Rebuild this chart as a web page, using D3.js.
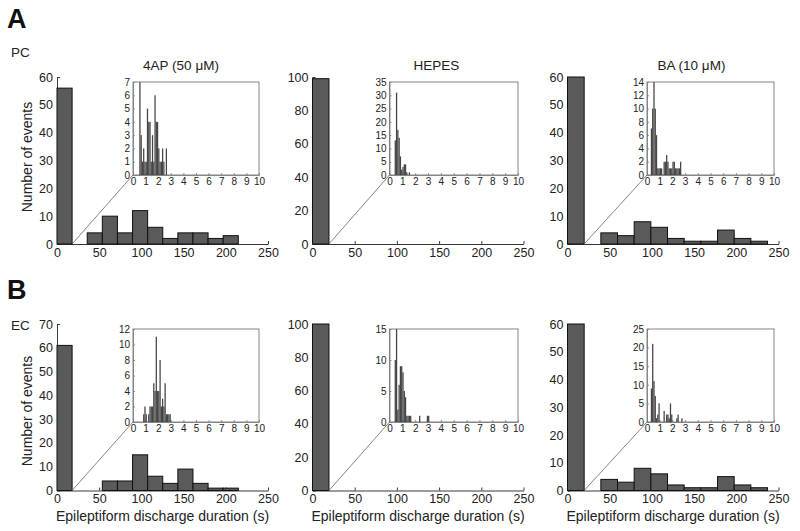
<!DOCTYPE html>
<html><head><meta charset="utf-8">
<script src="https://cdn.jsdelivr.net/npm/d3@7"></script>
<style>body{margin:0;background:#fff} svg{display:block;font-family:"Liberation Sans",Arial,Helvetica,sans-serif}</style>
</head><body><svg id="c" width="800" height="531"></svg>
<script>
// ---------- data ----------
const conditions = ["4AP (50 μM)", "HEPES", "BA (10 μM)"];
const regions = ["PC", "EC"];
const panelLetters = ["A", "B"];
const yAxisTitle = "Number of events";
const xAxisTitle = "Epileptiform discharge duration (s)";
const mainXTicks = [0, 50, 100, 150, 200, 250];
const insetXTicks = [0, 1, 2, 3, 4, 5, 6, 7, 8, 9, 10];

// main histograms: counts per bin, starting at 0 s
const mainBinWidth = [17.9, 19.5, 19.75];
const pc4apMain  = [56, 0, 4, 10, 4, 12, 6, 2, 4, 4, 2, 3];
const pcHepesMain = [99];
const pcBaMain   = [60, 0, 4, 3, 8, 6, 2, 1, 1, 5, 2, 1];
const ec4apMain  = [61, 0, 0, 4, 4, 15, 6, 3, 9, 3, 1, 1];
const ecHepesMain = [100];
const ecBaMain   = [60, 0, 4, 3, 8, 6, 2, 1, 1, 5, 2, 1];
const mainYMax  = [[60, 100, 60], [70, 100, 60]];
const mainYStep = [[10, 20, 10], [10, 20, 10]];

// inset histograms (0.1 s bins), first bin start per panel
const insetBinWidth = 0.1;
const insetStart = [[0.5, 0.4, 0.3], [0.8, 0.4, 0.3]];
const pc4apInset  = [7,3,1,2,1,1,5,4,4,1,3,1,6,4,4,2,1,1,2,1,0,2];
const pcHepesInset = [13,31,17,14,7,2,3,4,4,1,0,1];
const pcBaInset   = [7,10,14,10,6,1,1,1,1,0,2,2,3,2,1,1,1,2,2,1,1,1,1,2];
const ec4apInset  = [1,2,1,0,1,2,2,2,5,4,11,4,4,8,2,3,2,5,1,1,1,1];
const ecHepesInset = [10,15,2,6,9,9,8,5,4,1,1,1,1,0,0,0,0,0,0,1,0,0,0,0,0,1,1];
const ecBaInset   = [9,21,11,7,1,2,5,0,0,0,3,0,2,2,1,5,2,0,0,0,1,2,0,0,1];
const insetYMax  = [[7, 35, 14], [12, 15, 25]];
const insetYStep = [[1, 5, 2], [2, 5, 5]];

const mainData  = [[pc4apMain, pcHepesMain, pcBaMain], [ec4apMain, ecHepesMain, ecBaMain]];
const insetData = [[pc4apInset, pcHepesInset, pcBaInset], [ec4apInset, ecHepesInset, ecBaInset]];

// ---------- layout ----------
const colX = [57, 312.5, 567.5];
const mainW = 211;
const rowTop = [77, 324];
const rowBase = [244, 490.5];
const insetL = [76, 77, 79.5];
const insetR = [202, 205.5, 206.5];
const insetTop = [82, 329];
const insetBot = [175, 422];

const svg = d3.select("#c");
const barFill = "#5a5a5a";
const fmt = d3.format("d");

function ticksFor(max, step) { return d3.range(0, max + step / 2, step); }

for (let r = 0; r < 2; r++) {
  for (let c = 0; c < 3; c++) {
    const g = svg.append("g");
    const x = d3.scaleLinear().domain([0, 250]).range([colX[c], colX[c] + mainW]);
    const y = d3.scaleLinear().domain([0, mainYMax[r][c]]).range([rowBase[r], rowTop[r]]);

    // axes
    const xa = g.append("g").attr("transform", `translate(0,${rowBase[r]})`)
      .call(d3.axisBottom(x).tickValues(mainXTicks).tickFormat(fmt).tickSizeInner(-3).tickSizeOuter(0).tickPadding(4));
    const ya = g.append("g").attr("transform", `translate(${colX[c]},0)`)
      .call(d3.axisLeft(y).tickValues(ticksFor(mainYMax[r][c], mainYStep[r][c])).tickFormat(fmt).tickSizeInner(-3).tickSizeOuter(0).tickPadding(4));
    [xa, ya].forEach(a => {
      a.selectAll("path,line").attr("stroke", "#222").attr("stroke-width", 0.9);
      a.selectAll("text").attr("font-size", 12.5).attr("fill", "#222");
    });

    // main bars
    const bw = mainBinWidth[c];
    const bins = mainData[r][c].map((v, i) => ({ x0: i * bw, x1: (i + 1) * bw, v })).filter(d => d.v > 0);
    g.selectAll("rect.m").data(bins).enter().append("rect")
      .attr("x", d => x(d.x0)).attr("width", d => x(d.x1) - x(d.x0))
      .attr("y", d => y(d.v)).attr("height", d => y(0) - y(d.v))
      .attr("fill", barFill).attr("stroke", "#111").attr("stroke-width", 1);

    // inset
    const ix = d3.scaleLinear().domain([0, 10]).range([colX[c] + insetL[c], colX[c] + insetR[c]]);
    const iy = d3.scaleLinear().domain([0, insetYMax[r][c]]).range([insetBot[r], insetTop[r]]);

    // connector line
    g.append("line")
      .attr("x1", x(bw)).attr("y1", y(0))
      .attr("x2", ix(0)).attr("y2", iy(0))
      .attr("stroke", "#666").attr("stroke-width", 0.8);

    g.append("rect").attr("x", ix(0)).attr("y", iy(insetYMax[r][c]))
      .attr("width", ix(10) - ix(0)).attr("height", iy(0) - iy(insetYMax[r][c]))
      .attr("fill", "#fff").attr("stroke", "#777").attr("stroke-width", 0.9);

    const ixa = g.append("g").attr("transform", `translate(0,${insetBot[r]})`)
      .call(d3.axisBottom(ix).tickValues(insetXTicks).tickFormat(fmt).tickSizeInner(-2).tickSizeOuter(0).tickPadding(3));
    const iya = g.append("g").attr("transform", `translate(${ix(0)},0)`)
      .call(d3.axisLeft(iy).tickValues(ticksFor(insetYMax[r][c], insetYStep[r][c])).tickFormat(fmt).tickSizeInner(-2).tickSizeOuter(0).tickPadding(3));
    [ixa, iya].forEach(a => {
      a.selectAll("path,line").attr("stroke", "#777").attr("stroke-width", 0.8);
      a.selectAll("text").attr("font-size", 10).attr("fill", "#222");
    });

    const st = insetStart[r][c];
    const ibins = insetData[r][c].map((v, i) => ({ x0: st + i * insetBinWidth, x1: st + (i + 1) * insetBinWidth, v })).filter(d => d.v > 0);
    g.selectAll("rect.i").data(ibins).enter().append("rect")
      .attr("x", d => ix(d.x0)).attr("width", d => ix(d.x1) - ix(d.x0))
      .attr("y", d => iy(d.v)).attr("height", d => iy(0) - iy(d.v))
      .attr("fill", "#454545").attr("stroke", "none");

    // titles
    if (r === 0) {
      g.append("text").attr("x", colX[c] + 124).attr("y", 70)
        .attr("text-anchor", "middle").attr("font-size", 13.5).attr("fill", "#222").text(conditions[c]);
    }
    if (r === 1) {
      g.append("text").attr("x", colX[c] + 105.5).attr("y", 521)
        .attr("text-anchor", "middle").attr("font-size", 14).attr("fill", "#222").text(xAxisTitle);
    }
    if (c === 0) {
      const cy = r === 0 ? 157 : 411;
      g.append("text").attr("transform", `translate(32,${cy}) rotate(-90)`)
        .attr("text-anchor", "middle").attr("font-size", 14).attr("fill", "#222").text(yAxisTitle);
    }
  }
  // panel letter & region
  const oy = r === 0 ? 0 : 271;
  svg.append("text").attr("x", 7).attr("y", 28 + oy).attr("font-size", 27).attr("font-weight", "bold")
    .attr("fill", "#111").text(panelLetters[r]);
  svg.append("text").attr("x", 11).attr("y", 57 + (r === 0 ? 0 : 273)).attr("font-size", 13.5)
    .attr("fill", "#222").text(regions[r]);
}
</script></body></html>
